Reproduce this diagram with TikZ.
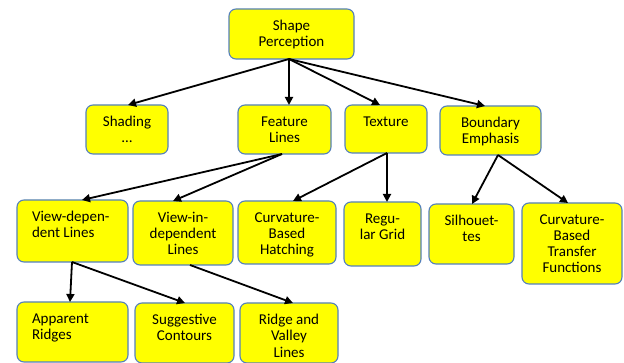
\documentclass[tikz,border=0pt]{standalone}
\usepackage{fontspec}
\setmainfont{Carlito}
\usetikzlibrary{arrows.meta,calc}
\definecolor{boxline}{RGB}{84,128,188}
\definecolor{boxfill}{RGB}{255,255,0}
\newcommand{\bt}[4][\centering]{\parbox[c][#3][t]{#2}{#1\fontsize{15}{16}\selectfont\rule{0pt}{22pt}#4}}
\newcommand{\lt}{\raggedright\leftskip=15pt\relax}
\tikzset{
  bx/.style={draw=boxline, fill=boxfill, line width=1.1pt, rounded corners=7pt, inner sep=0pt, outer sep=0pt},
  arr/.style={draw=black, line width=1.8pt, -{Triangle[length=8pt,width=8pt]}}
}
\begin{document}
\begin{tikzpicture}[x=1pt,y=-1pt]
\useasboundingbox (0,0) rectangle (624,363);
% row 0
\node[bx] (sp) at (291.5,34) {\bt{125pt}{50pt}{Shape\\Perception}};
% row 1
\node[bx] (sh) at (127,129.5) {\bt{82pt}{49pt}{Shading\\\dots}};
\node[bx] (fl) at (284.5,129.5) {\bt{93pt}{49pt}{Feature\\Lines}};
\node[bx] (tx) at (386,129) {\bt{82pt}{48pt}{Texture}};
\node[bx] (be) at (490.5,130.5) {\bt{101pt}{49pt}{Boundary\\Emphasis}};
% row 2
\node[bx] (vd) at (72.5,231) {\bt[\lt]{111pt}{62pt}{View-depen-\\dent Lines}};
\node[bx] (vi) at (183,233) {\bt{100pt}{64pt}{View-in-\\dependent\\Lines}};
\node[bx] (ch) at (287,232.5) {\bt{98pt}{63pt}{Curvature-\\Based\\Hatching}};
\node[bx] (rg) at (382.5,234) {\bt{77pt}{64pt}{Regu-\\lar Grid}};
\node[bx] (si) at (471.5,234) {\bt{85pt}{60pt}{Silhouet-\\tes}};
\node[bx] (ct) at (572,243.5) {\bt{100pt}{81pt}{Curvature-\\Based\\Transfer\\Functions}};
% row 3
\node[bx] (ar) at (72.5,332) {\bt[\lt]{111pt}{60pt}{Apparent\\Ridges}};
\node[bx] (sc) at (184.5,333) {\bt{99pt}{60pt}{Suggestive\\Contours}};
\node[bx] (rv) at (289,333) {\bt{98pt}{60pt}{Ridge and\\Valley\\Lines}};
% connectors
\draw[arr] ([xshift=-2.5pt]sp.south) -- ([xshift=1pt]sh.north);
\draw[arr] ([xshift=-2.5pt]sp.south) -- ([xshift=4.5pt]fl.north);
\draw[arr] ([xshift=-2.5pt]sp.south) -- ([xshift=-6pt]tx.north);
\draw[arr] ([xshift=-2.5pt]sp.south) -- ([xshift=-5.5pt]be.north);
\draw[arr] ([xshift=-2.5pt]fl.south) -- ([xshift=9.5pt]vd.north);
\draw[arr] ([xshift=-2.5pt]fl.south) -- ([xshift=-10pt]vi.north);
\draw[arr] ([xshift=1pt]tx.south) -- ([xshift=6pt]ch.north);
\draw[arr] ([xshift=1pt]tx.south) -- ([xshift=4.5pt]rg.north);
\draw[arr] ([xshift=7.5pt]be.south) -- ([xshift=0.5pt]si.north);
\draw[arr] ([xshift=7.5pt]be.south) -- ([xshift=-4pt]ct.north);
\draw[arr] ([xshift=-0.5pt]vd.south) -- ([xshift=-2.5pt]ar.north);
\draw[arr] ([xshift=-0.5pt]vd.south) -- ([xshift=0.5pt]sc.north);
\draw[arr] ([xshift=7pt]vi.south) -- ([xshift=4pt]rv.north);
\end{tikzpicture}
\end{document}
